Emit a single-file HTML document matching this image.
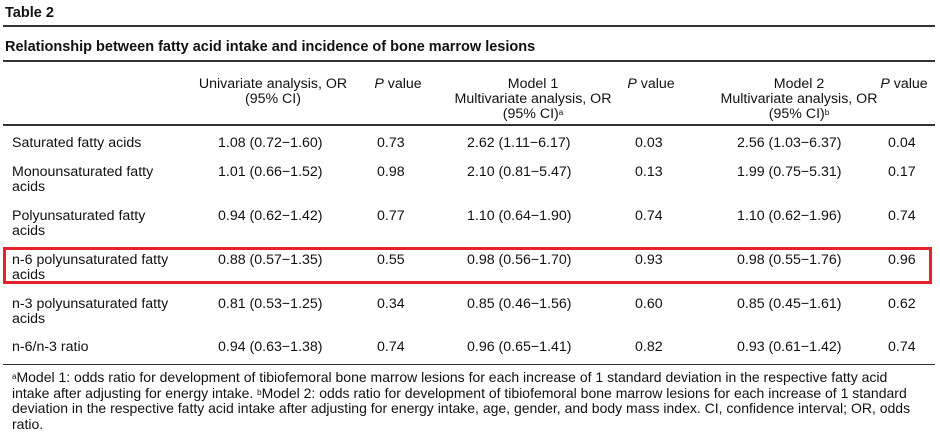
<!DOCTYPE html>
<html><head><meta charset="utf-8"><style>
body{margin:0;background:#fff;}
#w{position:relative;width:940px;height:432px;overflow:hidden;font-family:"Liberation Sans",Arial,sans-serif;color:#111;font-size:14.2px;line-height:15px;}
.a{position:absolute;white-space:nowrap;}
.c{position:absolute;white-space:nowrap;transform:translateX(-50%);text-align:center;}
.hr{position:absolute;left:3px;width:932px;height:2px;background:#333;}
sup{font-size:8px;vertical-align:3px;line-height:0;}
</style></head><body><div id="w">
<div class="a" style="left:5px;top:6px;font-weight:bold;font-size:14.5px;">Table 2</div>
<div class="hr" style="top:25px;"></div>
<div class="a" style="left:5px;top:40px;font-weight:bold;font-size:14.5px;">Relationship between fatty acid intake and incidence of bone marrow lesions</div>
<div class="hr" style="top:60px;"></div>
<div class="c" style="left:273px;top:77px;">Univariate analysis, OR<br>(95% CI)</div>
<div class="c" style="left:398px;top:77px;"><i>P</i> value</div>
<div class="c" style="left:533px;top:77px;">Model 1<br>Multivariate analysis, OR<br>(95% CI)<sup>a</sup></div>
<div class="c" style="left:651px;top:77px;"><i>P</i> value</div>
<div class="c" style="left:799px;top:77px;">Model 2<br>Multivariate analysis, OR<br>(95% CI)<sup>b</sup></div>
<div class="c" style="left:904px;top:77px;"><i>P</i> value</div>
<div class="hr" style="top:124px;"></div>

<div class="a" style="left:12px;top:136px;">Saturated fatty acids</div>
<div class="a" style="left:218px;top:136px;">1.08 (0.72−1.60)</div><div class="a" style="left:377px;top:136px;">0.73</div>
<div class="a" style="left:467px;top:136px;">2.62 (1.11−6.17)</div><div class="a" style="left:635px;top:136px;">0.03</div>
<div class="a" style="left:737px;top:136px;">2.56 (1.03−6.37)</div><div class="a" style="left:888px;top:136px;">0.04</div>

<div class="a" style="left:12px;top:165px;">Monounsaturated fatty<br>acids</div>
<div class="a" style="left:218px;top:165px;">1.01 (0.66−1.52)</div><div class="a" style="left:377px;top:165px;">0.98</div>
<div class="a" style="left:467px;top:165px;">2.10 (0.81−5.47)</div><div class="a" style="left:635px;top:165px;">0.13</div>
<div class="a" style="left:737px;top:165px;">1.99 (0.75−5.31)</div><div class="a" style="left:888px;top:165px;">0.17</div>

<div class="a" style="left:12px;top:209px;">Polyunsaturated fatty<br>acids</div>
<div class="a" style="left:218px;top:209px;">0.94 (0.62−1.42)</div><div class="a" style="left:377px;top:209px;">0.77</div>
<div class="a" style="left:467px;top:209px;">1.10 (0.64−1.90)</div><div class="a" style="left:635px;top:209px;">0.74</div>
<div class="a" style="left:737px;top:209px;">1.10 (0.62−1.96)</div><div class="a" style="left:888px;top:209px;">0.74</div>

<div class="a" style="left:12px;top:253px;">n-6 polyunsaturated fatty<br>acids</div>
<div class="a" style="left:218px;top:253px;">0.88 (0.57−1.35)</div><div class="a" style="left:377px;top:253px;">0.55</div>
<div class="a" style="left:467px;top:253px;">0.98 (0.56−1.70)</div><div class="a" style="left:635px;top:253px;">0.93</div>
<div class="a" style="left:737px;top:253px;">0.98 (0.55−1.76)</div><div class="a" style="left:888px;top:253px;">0.96</div>

<div class="a" style="left:12px;top:297px;">n-3 polyunsaturated fatty<br>acids</div>
<div class="a" style="left:218px;top:297px;">0.81 (0.53−1.25)</div><div class="a" style="left:377px;top:297px;">0.34</div>
<div class="a" style="left:467px;top:297px;">0.85 (0.46−1.56)</div><div class="a" style="left:635px;top:297px;">0.60</div>
<div class="a" style="left:737px;top:297px;">0.85 (0.45−1.61)</div><div class="a" style="left:888px;top:297px;">0.62</div>

<div class="a" style="left:12px;top:340px;">n-6/n-3 ratio</div>
<div class="a" style="left:218px;top:340px;">0.94 (0.63−1.38)</div><div class="a" style="left:377px;top:340px;">0.74</div>
<div class="a" style="left:467px;top:340px;">0.96 (0.65−1.41)</div><div class="a" style="left:635px;top:340px;">0.82</div>
<div class="a" style="left:737px;top:340px;">0.93 (0.61−1.42)</div><div class="a" style="left:888px;top:340px;">0.74</div>

<div class="hr" style="top:364px;height:1px;"></div>
<div class="a" style="left:12px;top:370px;font-size:14px;line-height:15.5px;"><sup>a</sup>Model 1: odds ratio for development of tibiofemoral bone marrow lesions for each increase of 1 standard deviation in the respective fatty acid<br>intake after adjusting for energy intake. <sup>b</sup>Model 2: odds ratio for development of tibiofemoral bone marrow lesions for each increase of 1 standard<br>deviation in the respective fatty acid intake after adjusting for energy intake, age, gender, and body mass index. CI, confidence interval; OR, odds<br>ratio.</div>

<div class="a" style="left:3px;top:247px;width:923px;height:31px;border:3px solid #e8202a;"></div>
</div></body></html>
